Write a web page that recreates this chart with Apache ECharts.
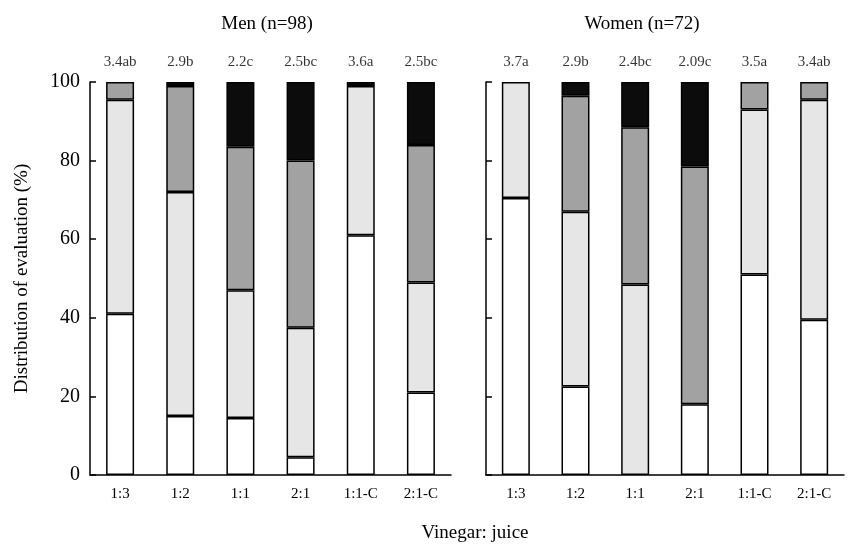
<!DOCTYPE html>
<html>
<head>
<meta charset="utf-8">
<script src="https://cdn.jsdelivr.net/npm/echarts@6/dist/echarts.min.js"></script>
<style>html,body{margin:0;padding:0;background:#fff}#c{width:856px;height:550px}</style>
</head>
<body>
<div id="c"></div>
<script>
const categories = ['1:3', '1:2', '1:1', '2:1', '1:1-C', '2:1-C'];
const yTicks = [0, 20, 40, 60, 80, 100];

const menWhite  = [41, 15, 14.5, 4.5, 61, 21];
const menLight  = [54.5, 57, 32.5, 33, 38, 28];
const menMedium = [4.5, 27, 36.5, 42.5, 0, 35];
const menBlack  = [0, 1, 16.5, 20, 1, 16];
const menLabels = ['3.4ab', '2.9b', '2.2c', '2.5bc', '3.6a', '2.5bc'];

const womenWhite  = [70.5, 22.5, 0, 18, 51, 39.5];
const womenLight  = [29.5, 44.5, 48.5, 0, 42, 56];
const womenMedium = [0, 29.5, 40, 60.5, 7, 4.5];
const womenBlack  = [0, 3.5, 11.5, 21.5, 0, 0];
const womenLabels = ['3.7a', '2.9b', '2.4bc', '2.09c', '3.5a', '3.4ab'];

const panelTitles = ['Men (n=98)', 'Women (n=72)'];
const xTitle = 'Vinegar: juice';
const yTitle = 'Distribution of evaluation (%)';

const serif = '"Liberation Serif", "DejaVu Serif", serif';
const segColors = ['#ffffff', '#e6e6e6', '#a2a2a2', '#0c0c0c'];

function bars(idx, arrs, stack) {
  return arrs.map((a, k) => ({
    type: 'bar', xAxisIndex: idx, yAxisIndex: idx, stack: stack,
    barWidth: 28,
    data: a.map(v => v === 0 ? '-' : v),
    itemStyle: { color: segColors[k], borderColor: '#000', borderWidth: 1.5 },
    silent: true, animation: false
  }));
}
function labelSeries(idx, labels) {
  return {
    type: 'scatter', xAxisIndex: idx, yAxisIndex: idx, symbolSize: 0,
    data: labels.map((l, i) => [i, 100]),
    label: { show: true, position: 'top', distance: 12, formatter: p => labels[p.dataIndex],
      fontFamily: serif, fontSize: 15, color: '#000' },
    animation: false, silent: true
  };
}
const xAxisBase = {
  type: 'category', data: categories,
  axisLine: { lineStyle: { color: '#000', width: 1.5 } },
  axisTick: { show: false },
  axisLabel: { fontFamily: serif, fontSize: 15, color: '#000', margin: 12 }
};
const yAxisBase = {
  type: 'value', min: 0, max: 100, interval: 20,
  splitLine: { show: false },
  axisLine: { show: true, lineStyle: { color: '#000', width: 1.5 } },
  axisTick: { show: true, inside: true, length: 6, lineStyle: { color: '#000', width: 1.5 } }
};

const chart = echarts.init(document.getElementById('c'), null, { renderer: 'canvas' });
chart.setOption({
  backgroundColor: '#fff',
  animation: false,
  title: [
    { text: panelTitles[0], left: 262, top: 10, textAlign: 'center', textStyle: { fontFamily: serif, fontSize: 19, fontWeight: 'normal', color: '#000' } },
    { text: panelTitles[1], left: 637, top: 10, textAlign: 'center', textStyle: { fontFamily: serif, fontSize: 19, fontWeight: 'normal', color: '#000' } },
    { text: xTitle, left: 470, top: 519, textAlign: 'center', textStyle: { fontFamily: serif, fontSize: 19, fontWeight: 'normal', color: '#000' } }
  ],
  grid: [
    { left: 90, width: 361, top: 82, bottom: 75 },
    { left: 486, width: 358, top: 82, bottom: 75 }
  ],
  xAxis: [
    Object.assign({ gridIndex: 0 }, xAxisBase),
    Object.assign({ gridIndex: 1 }, xAxisBase)
  ],
  yAxis: [
    Object.assign({ gridIndex: 0 }, yAxisBase, {
      axisLabel: { fontFamily: serif, fontSize: 20, color: '#000', margin: 10,
        formatter: v => yTicks.includes(v) ? String(v) : '' },
      name: yTitle, nameLocation: 'middle', nameGap: 58,
      nameTextStyle: { fontFamily: serif, fontSize: 19, color: '#000' }
    }),
    Object.assign({ gridIndex: 1 }, yAxisBase, { axisLabel: { show: false } })
  ],
  series: [
    ...bars(0, [menWhite, menLight, menMedium, menBlack], 'men'),
    ...bars(1, [womenWhite, womenLight, womenMedium, womenBlack], 'women'),
    labelSeries(0, menLabels),
    labelSeries(1, womenLabels)
  ]
});
</script>
</body>
</html>
